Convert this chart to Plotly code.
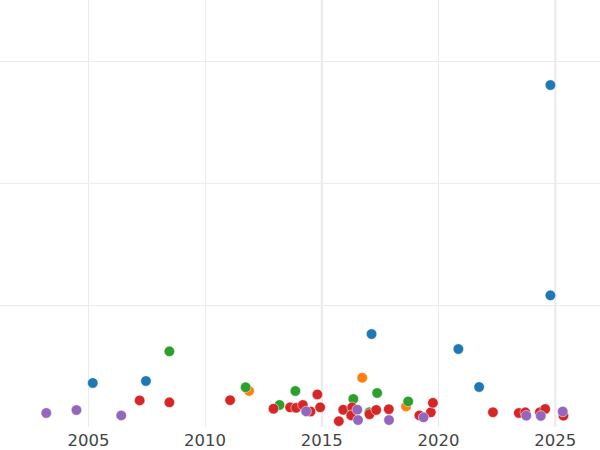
import plotly.graph_objects as go

# ---------------- data ----------------
blue_dates = ["2005-03-10", "2007-06-20", "2017-02-17", "2020-11-06",
              "2021-09-27", "2024-10-16", "2024-10-16"]
blue_vals = [36.1, 37.7, 76.2, 63.9, 32.8, 107.9, 280.3]

orange_dates = ["2011-11-20", "2016-09-24", "2018-08-11"]
orange_vals = [29.6, 40.4, 16.9]

green_dates = ["2008-06-21", "2011-09-27", "2013-03-10", "2013-11-13",
               "2016-05-08", "2017-05-16", "2017-01-12", "2018-09-13"]
green_vals = [62.0, 32.6, 18.1, 29.5, 23.0, 27.9, 12.0, 21.0]

red_dates = ["2007-03-14", "2008-06-21", "2011-01-27", "2012-12-06",
             "2013-08-22", "2013-11-24", "2014-03-10", "2014-07-08",
             "2014-10-23", "2014-12-06", "2015-09-24", "2015-12-02",
             "2016-04-20", "2016-04-05", "2017-01-16", "2017-05-01",
             "2017-11-14", "2019-03-08", "2019-09-02", "2019-10-05",
             "2022-05-01", "2023-06-10", "2023-09-20", "2024-05-05",
             "2024-07-27", "2025-05-08"]
red_vals = [21.8, 20.2, 22.0, 15.0, 16.1, 15.7, 18.1, 12.7, 26.7, 16.1,
            4.8, 14.1, 16.1, 9.5, 10.5, 14.0, 14.6, 9.5, 12.0, 19.8,
            12.1, 11.5, 12.0, 12.1, 14.8, 9.3]

purple_dates = ["2003-03-14", "2004-06-28", "2006-05-30", "2014-05-01",
                "2016-07-09", "2016-07-20", "2017-11-17", "2019-05-12",
                "2023-10-05", "2024-05-19", "2025-04-27"]
purple_vals = [11.5, 13.9, 9.5, 12.8, 14.2, 5.7, 5.7, 7.9, 9.3, 9.1, 12.7]

series = [
    (blue_dates, blue_vals, "#1f77b4"),
    (orange_dates, orange_vals, "#ff7f0e"),
    (green_dates, green_vals, "#2ca02c"),
    (red_dates, red_vals, "#d62728"),
    (purple_dates, purple_vals, "#9467bd"),
]

fig = go.Figure()
for dates, vals, color in series:
    fig.add_trace(go.Scatter(
        x=dates, y=vals, mode="markers",
        marker=dict(size=10.5, color=color, line=dict(width=0.5, color="white")),
        showlegend=False,
    ))

# thicker guide lines at 2015 and 2025
for d in ["2015-01-01", "2025-01-01"]:
    fig.add_shape(type="line", xref="x", yref="paper", x0=d, x1=d, y0=0, y1=1,
                  line=dict(color="#e8e8e8", width=2), layer="below")

fig.update_xaxes(
    type="date", range=["2001-03-20", "2026-12-01"],
    dtick="M60", tick0="2005-01-01", tickformat="%Y",
    showgrid=True, gridcolor="#ebebeb", gridwidth=1,
    zeroline=False, showline=False, ticks="", ticklabelstandoff=1,
    tickfont=dict(family="DejaVu Sans", size=16.5, color="#444"),
    automargin=False,
)
fig.update_yaxes(
    range=[0, 350], dtick=100, showticklabels=False,
    showgrid=True, gridcolor="#ebebeb", gridwidth=1,
    zeroline=False, showline=False, automargin=False,
)
fig.update_layout(
    width=600, height=450,
    margin=dict(l=0, r=0, t=0, b=23),
    paper_bgcolor="white", plot_bgcolor="white",
    font=dict(family="DejaVu Sans"),
)

# page body has a default 8px margin; drop it so the chart fills the window
fig.write_html("out.html", config={"displayModeBar": False},
               post_script="document.body.style.margin='0';")
